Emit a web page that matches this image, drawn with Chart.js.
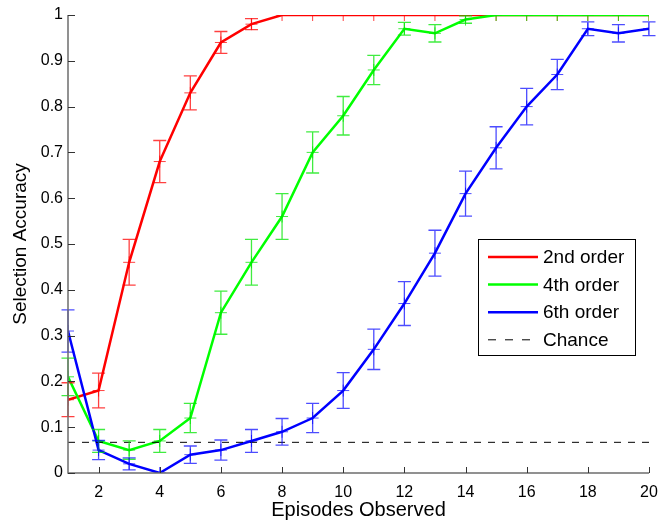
<!DOCTYPE html>
<html>
<head>
<meta charset="utf-8">
<script src="https://cdn.jsdelivr.net/npm/chart.js@4"></script>
<style>
  html, body { margin: 0; padding: 0; background: #fff; }
  #wrap { width: 662px; height: 523px; }
</style>
</head>
<body>
<div id="wrap"><canvas id="accChart" width="662" height="523"></canvas></div>
<script>
const episodes = [1, 2, 3, 4, 5, 6, 7, 8, 9, 10, 11, 12, 13, 14, 15, 16, 17, 18, 19, 20];
const xTicks = [2, 4, 6, 8, 10, 12, 14, 16, 18, 20];
const yTicks = [0, 0.1, 0.2, 0.3, 0.4, 0.5, 0.6, 0.7, 0.8, 0.9, 1];

const order2 = [0.16, 0.18, 0.46, 0.68, 0.83, 0.94, 0.98, 1, 1, 1, 1, 1, 1, 1, 1, 1, 1, 1, 1, 1];
const order2Err = [0.037, 0.038, 0.05, 0.046, 0.037, 0.024, 0.012, 0, 0, 0, 0, 0, 0, 0, 0, 0, 0, 0, 0, 0];

const order4 = [0.21, 0.07, 0.05, 0.07, 0.12, 0.35, 0.46, 0.56, 0.70, 0.78, 0.88, 0.97, 0.96, 0.99, 1, 1, 1, 1, 1, 1];
const order4Err = [0.041, 0.025, 0.02, 0.025, 0.032, 0.047, 0.05, 0.05, 0.045, 0.042, 0.032, 0.014, 0.019, 0.008, 0, 0, 0, 0, 0, 0];

const order6 = [0.31, 0.05, 0.02, 0, 0.04, 0.05, 0.07, 0.09, 0.12, 0.18, 0.27, 0.37, 0.48, 0.61, 0.71, 0.80, 0.87, 0.97, 0.96, 0.97];
const order6Err = [0.046, 0.021, 0.013, 0, 0.019, 0.022, 0.025, 0.029, 0.032, 0.039, 0.044, 0.048, 0.05, 0.049, 0.046, 0.04, 0.033, 0.015, 0.019, 0.015];

const chanceLevel = 0.067;

const seriesNames = ["2nd order", "4th order", "6th order", "Chance"];
const seriesColors = ["#ff0000", "#00ff00", "#0000ff", "#000000"];
const errColors = ["rgba(255,0,0,0.75)", "rgba(0,230,0,0.75)", "rgba(0,0,255,0.7)"];

const FONT = "'Liberation Sans', Arial, Helvetica, sans-serif";
const AXIS_COLOR = "#6e6e6e";

function toPoints(values) {
  return episodes.map((x, i) => ({ x: x, y: values[i] }));
}

function makeSeries(i, values, errs) {
  return {
    label: seriesNames[i],
    data: toPoints(values),
    errors: errs,
    errColor: errColors[i],
    borderColor: seriesColors[i],
    backgroundColor: seriesColors[i],
    borderWidth: 2.5,
    pointStyle: "cross",
    pointRadius: 6,
    pointBorderWidth: 1,
    pointBorderColor: errColors[i],
    tension: 0,
    order: 3 - i,
  };
}

// error bars with caps, from each dataset's errors array
const errorBars = {
  id: "errorBars",
  afterDatasetsDraw(chart) {
    const { ctx, scales } = chart;
    chart.data.datasets.forEach((ds) => {
      if (!ds.errors) return;
      ctx.save();
      ctx.strokeStyle = ds.errColor;
      ctx.lineWidth = 1.3;
      ds.data.forEach((p, i) => {
        const e = ds.errors[i];
        if (!e) return;
        const px = scales.x.getPixelForValue(p.x);
        const hi = scales.y.getPixelForValue(p.y + e);
        const lo = scales.y.getPixelForValue(p.y - e);
        ctx.beginPath();
        ctx.moveTo(px, hi);
        ctx.lineTo(px, lo);
        ctx.moveTo(px - 6.5, hi);
        ctx.lineTo(px + 6.5, hi);
        ctx.moveTo(px - 6.5, lo);
        ctx.lineTo(px + 6.5, lo);
        ctx.stroke();
      });
      ctx.restore();
    });
  },
};

// MATLAB style axes: left and bottom lines with inward ticks
const axesLines = {
  id: "axesLines",
  afterDraw(chart) {
    const { ctx, chartArea: a, scales } = chart;
    ctx.save();
    ctx.strokeStyle = AXIS_COLOR;
    ctx.lineWidth = 1.5;
    ctx.beginPath();
    ctx.moveTo(a.left, a.top);
    ctx.lineTo(a.left, a.bottom);
    ctx.lineTo(a.right, a.bottom);
    ctx.stroke();
    ctx.lineWidth = 1;
    ctx.strokeStyle = "#333";
    ctx.beginPath();
    yTicks.forEach((v) => {
      const py = Math.round(scales.y.getPixelForValue(v)) + 0.5;
      ctx.moveTo(a.left, py);
      ctx.lineTo(a.left + 7, py);
    });
    xTicks.forEach((v) => {
      const px = Math.round(scales.x.getPixelForValue(v)) + 0.5;
      ctx.moveTo(px, a.bottom);
      ctx.lineTo(px, a.bottom - 6);
    });
    ctx.stroke();
    ctx.restore();
  },
};

// legend box inside the plot, like the original
const boxLegend = {
  id: "boxLegend",
  afterDraw(chart) {
    const { ctx } = chart;
    const x0 = 478, y0 = 239, w = 157, h = 116;
    ctx.save();
    ctx.fillStyle = "#fff";
    ctx.fillRect(x0, y0, w, h);
    ctx.strokeStyle = "#000";
    ctx.lineWidth = 1;
    ctx.strokeRect(x0 + 0.5, y0 + 0.5, w, h);
    ctx.font = "19px " + FONT;
    ctx.textBaseline = "middle";
    ctx.textAlign = "left";
    seriesNames.forEach((name, i) => {
      const cy = 257 + i * 27.6;
      ctx.beginPath();
      ctx.strokeStyle = seriesColors[i];
      if (i === 3) {
        ctx.lineWidth = 1;
        ctx.setLineDash([8, 9]);
      } else {
        ctx.lineWidth = 2.5;
        ctx.setLineDash([]);
      }
      ctx.moveTo(488, cy);
      ctx.lineTo(538, cy);
      ctx.stroke();
      ctx.setLineDash([]);
      ctx.fillStyle = "#000";
      ctx.fillText(name, 543, cy + 1);
    });
    ctx.restore();
  },
};

const datasets = [
  makeSeries(0, order2, order2Err),
  makeSeries(1, order4, order4Err),
  makeSeries(2, order6, order6Err),
  {
    label: seriesNames[3],
    data: [{ x: episodes[0], y: chanceLevel }, { x: episodes[episodes.length - 1], y: chanceLevel }],
    borderColor: "#000",
    borderWidth: 1,
    borderDash: [7, 7],
    pointRadius: 0,
    order: -1,
  },
];

new Chart(document.getElementById("accChart"), {
  type: "line",
  data: { datasets },
  plugins: [errorBars, axesLines, boxLegend],
  options: {
    responsive: false,
    animation: false,
    layout: { padding: { top: 15, right: 13, left: 0, bottom: 0 } },
    plugins: { legend: { display: false }, tooltip: { enabled: false } },
    scales: {
      x: {
        type: "linear",
        min: 1,
        max: 20,
        afterBuildTicks: (s) => { s.ticks = xTicks.map((v) => ({ value: v })); },
        afterFit: (s) => { s.height = 50; },
        grid: { display: false },
        border: { display: false },
        ticks: { color: "#000", padding: 2, font: { family: FONT, size: 16 } },
        title: {
          display: true,
          text: "Episodes Observed",
          color: "#000",
          font: { family: FONT, size: 20 },
          padding: { top: 0, bottom: 1 },
        },
      },
      y: {
        min: 0,
        max: 1,
        afterBuildTicks: (s) => { s.ticks = yTicks.map((v) => ({ value: v })); },
        afterFit: (s) => { s.width = 68; },
        grid: { display: false, drawTicks: false },
        border: { display: false },
        ticks: {
          color: "#000",
          padding: 5,
          font: { family: FONT, size: 16 },
          callback: (v) => String(Math.round(v * 10) / 10),
        },
        title: {
          display: true,
          text: "Selection Accuracy",
          color: "#000",
          font: { family: FONT, size: 19 },
          padding: { top: 9, bottom: 0 },
        },
      },
    },
  },
});
</script>
</body>
</html>
